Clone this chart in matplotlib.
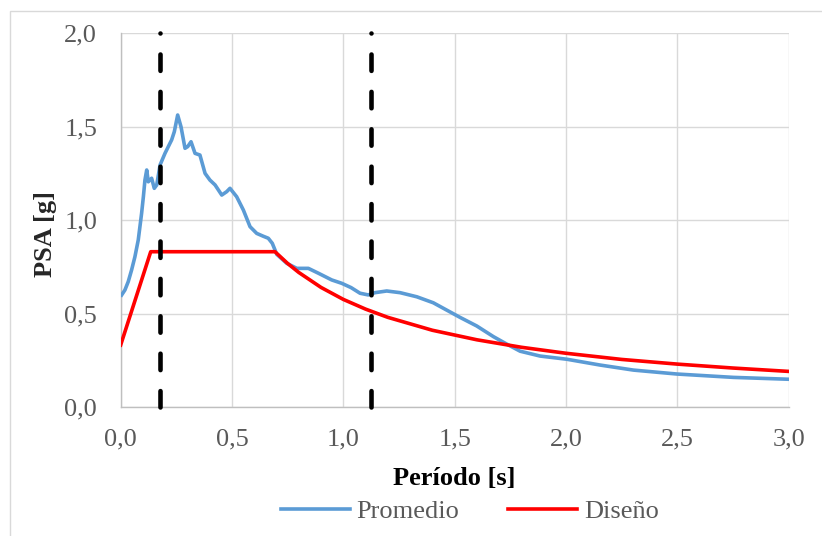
import numpy as np
import matplotlib.pyplot as plt
from matplotlib.patches import Rectangle

plt.rcParams['font.family'] = ['Liberation Serif', 'DejaVu Serif']

# Promedio (average spectrum)
periodo_prom = [0.004, 0.019, 0.034, 0.049, 0.064, 0.079, 0.094, 0.102, 0.109, 0.117,
                0.124, 0.139, 0.151, 0.162, 0.177, 0.199, 0.229, 0.241, 0.256, 0.271,
                0.289, 0.301, 0.316, 0.334, 0.356, 0.379, 0.401, 0.424, 0.454, 0.476,
                0.491, 0.521, 0.551, 0.581, 0.611, 0.640, 0.663, 0.681, 0.701, 0.746,
                0.791, 0.843, 0.888, 0.948, 0.993, 1.035, 1.075, 1.112, 1.142, 1.195,
                1.255, 1.330, 1.404, 1.464, 1.524, 1.599, 1.674, 1.734, 1.794, 1.884,
                2.004, 2.153, 2.303, 2.498, 2.752, 3.000]
psa_prom = [0.600, 0.627, 0.672, 0.734, 0.805, 0.895, 1.037, 1.126, 1.215, 1.269,
            1.206, 1.225, 1.171, 1.189, 1.296, 1.358, 1.430, 1.474, 1.563, 1.500,
            1.385, 1.394, 1.420, 1.358, 1.349, 1.251, 1.215, 1.189, 1.135, 1.153,
            1.171, 1.126, 1.055, 0.966, 0.930, 0.915, 0.904, 0.877, 0.818, 0.770,
            0.743, 0.743, 0.717, 0.681, 0.663, 0.640, 0.610, 0.601, 0.613, 0.622,
            0.613, 0.591, 0.559, 0.520, 0.481, 0.435, 0.378, 0.338, 0.300, 0.274,
            0.257, 0.226, 0.199, 0.178, 0.160, 0.150]

# Diseño (design spectrum)
periodo_dis = [0.0, 0.135, 0.693, 0.75, 0.8, 0.9, 1.0, 1.1, 1.2, 1.4, 1.6, 1.8,
               2.0, 2.25, 2.5, 2.75, 3.0]
psa_dis = [0.333, 0.832, 0.832, 0.769, 0.721, 0.641, 0.577, 0.525, 0.481, 0.412,
           0.361, 0.321, 0.289, 0.256, 0.231, 0.210, 0.192]

# vertical limits (dashed)
periodo_lim = [0.177, 1.123]

xticks = [0.0, 0.5, 1.0, 1.5, 2.0, 2.5, 3.0]
yticks = [0.0, 0.5, 1.0, 1.5, 2.0]

fig = plt.figure(figsize=(8.22, 5.36), dpi=100)
ax = fig.add_axes([0.1468, 0.2401, 0.9594 - 0.1468, 0.9379 - 0.2401])

# outer chart frame
fig.patches.append(Rectangle((10 / 822, -0.2), 2, 1 - 11 / 536 + 0.2,
                             transform=fig.transFigure, fill=False,
                             edgecolor='#d9d9d9', lw=1.0))

ax.plot(periodo_prom, psa_prom, color='#5b9bd5', lw=2.6, solid_joinstyle='round',
        label='Promedio', zorder=3)
ax.plot(periodo_dis, psa_dis, color='#ff0000', lw=2.6, solid_joinstyle='round',
        label='Diseño', zorder=4)
for t in periodo_lim:
    ax.plot([t, t], [0, 2.0], color='black', lw=3.3, dashes=(3.58, 4.58),
            dash_capstyle='round', zorder=5, clip_on=False)

ax.set_xlim(0, 3.0)
ax.set_ylim(0, 2.0)
ax.set_xticks(xticks)
ax.set_yticks(yticks)
ax.set_xticklabels([f"{v:.1f}".replace('.', ',') for v in xticks])
ax.set_yticklabels([f"{v:.1f}".replace('.', ',') for v in yticks])
ax.tick_params(length=0, labelsize=19, labelcolor='#595959')
ax.tick_params(axis='x', pad=15)
ax.tick_params(axis='y', pad=17)

ax.grid(True, color='#d9d9d9', lw=1.0, zorder=0)
ax.set_axisbelow(True)
for s in ['top', 'right']:
    ax.spines[s].set_visible(False)
for s in ['left', 'bottom']:
    ax.spines[s].set_color('#bfbfbf')
    ax.spines[s].set_linewidth(1.0)

fig.text(454 / 822, 1 - 479 / 536, 'Período [s]', fontsize=19, fontweight='bold',
         ha='center', va='center', color='black')
fig.text(45 / 822, 1 - 234 / 536, 'PSA [g]', fontsize=19, fontweight='bold',
         ha='center', va='center', rotation=90, color='#262626')

fig.legend(loc='center', bbox_to_anchor=(470 / 822, 1 - 511 / 536), ncol=2,
           frameon=False, fontsize=19, handlelength=2.6, handletextpad=0.27,
           columnspacing=1.85, labelcolor='#595959')

fig.savefig('out.png', dpi=100)
